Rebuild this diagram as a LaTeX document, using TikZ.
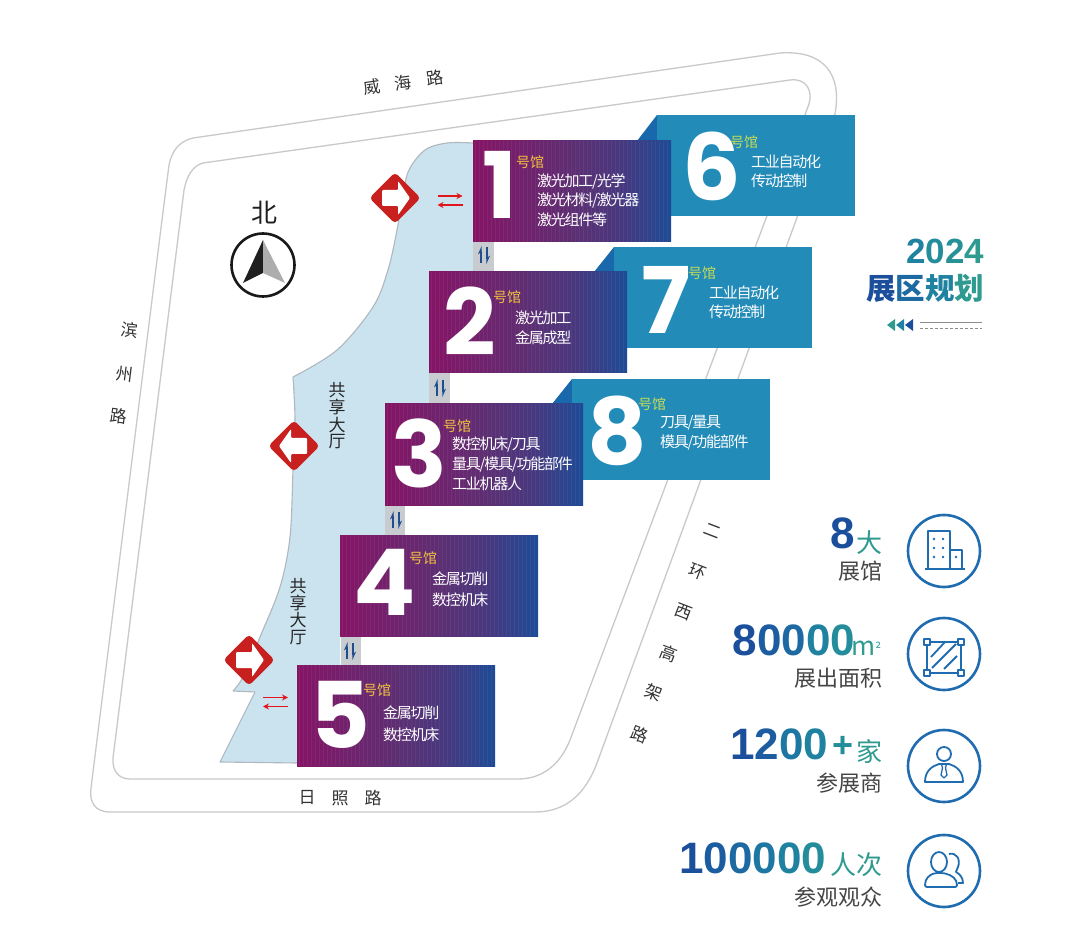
\documentclass[tikz,border=0pt]{standalone}
\usepackage{fontspec}
\usetikzlibrary{arrows.meta}
\setmainfont{Noto Sans CJK SC}
\newfontfamily\hallfont[LetterSpace=-8]{Noto Sans CJK SC}
\newfontfamily\numfont{Poppins}
\newfontfamily\statfont{Liberation Sans}
\definecolor{hblue}{HTML}{CBE2EF}
\definecolor{hedge}{HTML}{AEB8BE}
\definecolor{road}{HTML}{C9C9CB}
\definecolor{teal6}{HTML}{228BB8}
\definecolor{fold}{HTML}{1A68AC}
\definecolor{gold}{HTML}{F2C03E}
\definecolor{lime}{HTML}{C6DC55}
\definecolor{corr}{HTML}{C8CCD0}
\definecolor{carrow}{HTML}{1F4E8C}
\definecolor{sred}{HTML}{C8201F}
\definecolor{ared}{HTML}{E0161B}
\definecolor{txt}{HTML}{333333}
\definecolor{sub}{HTML}{454545}
\definecolor{ring}{HTML}{1F6CB0}
\definecolor{ga}{HTML}{1B4F9C}
\definecolor{gb}{HTML}{1C5CA0}
\definecolor{gc}{HTML}{1D6AA2}
\definecolor{gd}{HTML}{1E76A2}
\definecolor{ge}{HTML}{1F82A0}
\definecolor{gf}{HTML}{238D9C}
\definecolor{gg}{HTML}{2F9A8F}
\pgfdeclarehorizontalshading{hallgrad}{100bp}{
 color(0bp)=(rgb:red,165;green,25;blue,125);
 color(50bp)=(rgb:red,165;green,25;blue,125);
 color(65bp)=(rgb:red,130;green,45;blue,130);
 color(100bp)=(rgb:red,110;green,55;blue,135)}
\pgfdeclarehorizontalshading{hallgradb}{100bp}{
 color(0bp)=(rgb:red,165;green,25;blue,125);
 color(25bp)=(rgb:red,165;green,25;blue,125);
 color(50bp)=(rgb:red,110;green,55;blue,135);
 color(62bp)=(rgb:red,80;green,62;blue,140);
 color(75bp)=(rgb:red,30;green,75;blue,150);
 color(100bp)=(rgb:red,30;green,75;blue,150)}
\tikzset{
 x=1pt,y=-1pt,
 lbl/.style={inner sep=0pt,outer sep=0pt},
 hall/.style={lbl,anchor=north west,minimum width=198pt,minimum height=101pt,shade,shading=hallgradb},
 tealhall/.style={lbl,anchor=north west,minimum width=198pt,minimum height=101pt,fill=teal6},
 digit/.style={lbl,white,font=\numfont\bfseries\fontsize{92}{92}\selectfont},
 guan/.style={lbl,anchor=west,font=\fontsize{14}{14}\selectfont},
 halltext/.style={lbl,anchor=west,white,font=\hallfont\fontsize{15}{15}\selectfont},
 roadlabel/.style={lbl,txt,font=\fontsize{17}{17}\selectfont},
 vlabel/.style={lbl,text=black!85,font=\fontsize{17}{17}\selectfont},
 roadline/.style={draw=road,line width=1.3pt},
 statbig/.style={lbl,anchor=base east,font=\statfont\bfseries\fontsize{44}{44}\selectfont},
 statunit/.style={lbl,anchor=east,gg,font=\fontsize{26}{26}\selectfont},
 statsub/.style={lbl,anchor=east,sub,font=\fontsize{22}{22}\selectfont},
 ringc/.style={lbl,draw=ring,line width=2.6pt,circle,minimum size=72pt},
 icon/.style={draw=ring,line width=1.8pt,line join=round},
 redarrow/.style={ared,line width=1.3pt,-{Stealth[length=6pt,width=6pt]}},
 corrarrow/.style={carrow,line width=1.3pt},
 entrysign/.pic={
  \fill[sred,rounded corners=4pt] (-25.7,0)--(0,-25.7)--(25.7,0)--(0,25.7)--cycle;
  \fill[white,rounded corners=1pt] (-13,-8)--(3,-8)--(3,-17)--(15,0)--(3,17)--(3,8)--(-13,8)--cycle;
 },
 updown/.pic={
  \draw[corrarrow,-{Stealth[harpoon,length=7pt,width=6pt]}] (-3,8)--(-3,-9);
  \draw[corrarrow,-{Stealth[harpoon,length=7pt,width=6pt]}] (3,-8)--(3,9);
 },
 dbl/.pic={
  \draw[redarrow] (-12.5,-4.5)--(12.5,-4.5);
  \draw[redarrow] (12.5,4.5)--(-12.5,4.5);
 }
}
\newcommand{\stripes}[2]{\foreach \s in {2,6,...,196}{\draw[white,opacity=.05,line width=1pt] ({#1+\s},#2)--({#1+\s},{#2+101});}}
\begin{document}
\begin{tikzpicture}
\useasboundingbox[fill=white] (0,0) rectangle (1080,941);
% shared hall floor
\fill[hblue] plot[smooth,tension=.55] coordinates {(473,143)(447,143)(425,150)(409,170)(403,195)(397,230)(388,270)(373,307)(337,350)(293,377)}
 -- plot[smooth,tension=.55] coordinates {(293,377)(295,420)(293,470)(290,537)(280,587)(260,637)(243,677)(233,691)}
 -- (255,692) -- (220,762) -- (297,763) -- (297,665) -- (340,665) -- (340,535) -- (385,535) -- (385,404) -- (429,404) -- (429,272) -- (473,272) -- cycle;
\draw[hedge,line width=1.1pt,line join=round] plot[smooth,tension=.55] coordinates {(473,143)(447,143)(425,150)(409,170)(403,195)(397,230)(388,270)(373,307)(337,350)(293,377)}
 plot[smooth,tension=.55] coordinates {(293,377)(295,420)(293,470)(290,537)(280,587)(260,637)(243,677)(233,691)};
\draw[hedge,line width=1.1pt,line join=round] (233,691) -- (255,692) -- (220,762) -- (297,763);
% roads
\draw[roadline] (193,138) -- (780,53) .. controls (825,50) and (842,75) .. (835,114) -- (597,763) .. controls (585,795) and (565,812) .. (535,812) -- (110,812) .. controls (95,812) and (89,802) .. (91,788) -- (162,220) -- (169,165) .. controls (172,150) and (180,141) .. (193,138) -- cycle;
\draw[roadline] (203,163) -- (790,80) .. controls (806,78) and (813,90) .. (809,104) -- (570,740) .. controls (560,765) and (542,779) .. (518,779) -- (130,779) .. controls (118,779) and (112,770) .. (113,758) -- (184,190) .. controls (187,175) and (193,166) .. (203,163) -- cycle;
% road labels
\node[roadlabel,rotate=8] (w1) at (372,87) {威};
\node[roadlabel,rotate=8] (w2) at (403,83) {海};
\node[roadlabel,rotate=8] (w3) at (435,78) {路};
\node[roadlabel,rotate=-7] (b1) at (130,330) {滨};
\node[roadlabel,rotate=-7] (b2) at (125,374) {州};
\node[roadlabel,rotate=-7] (b3) at (119,416) {路};
\node[roadlabel] (r1) at (307,798) {日};
\node[roadlabel] (r2) at (340,798) {照};
\node[roadlabel] (r3) at (373,798) {路};
\node[roadlabel,rotate=-21] (e1) at (713,531) {二};
\node[roadlabel,rotate=-21] (e2) at (698,572) {环};
\node[roadlabel,rotate=-21] (e3) at (684,612) {西};
\node[roadlabel,rotate=-21] (e4) at (669,653) {高};
\node[roadlabel,rotate=-21] (e5) at (654,693) {架};
\node[roadlabel,rotate=-21] (e6) at (640,734) {路};
% corridors
\fill[corr] (473,242) rectangle (494,272);
\fill[corr] (429,373) rectangle (450,404);
\fill[corr] (385,505) rectangle (405,535);
\fill[corr] (341,636) rectangle (361,665);
\pic at (484,255) {updown};
\pic at (440,388) {updown};
\pic at (396,520) {updown};
\pic at (350,651) {updown};
% teal halls
\fill[fold] (637,141) -- (657,115) -- (657,141) -- cycle;
\fill[fold] (594,272) -- (614,247) -- (614,272) -- cycle;
\fill[fold] (552,404) -- (572,379) -- (572,404) -- cycle;
\node[tealhall] (h6) at (657,115) {};
\node[tealhall] (h7) at (614,247) {};
\node[tealhall] (h8) at (572,379) {};
% purple halls
\node[hall] (h1) at (473,141) {}; \stripes{473}{141}
\node[hall] (h2) at (429,272) {}; \stripes{429}{272}
\node[hall] (h3) at (385,404) {}; \stripes{385}{404}
\node[hall] (h4) at (340,535) {}; \stripes{340}{535}
\node[hall] (h5) at (297,665) {}; \stripes{297}{665}
% digits
\node[digit] (d1) at (500,185) {1};
\node[digit] (d2) at (470,321) {2};
\node[digit] (d3) at (419,453) {3};
\node[digit] (d4) at (385,582) {4};
\node[digit] (d5) at (340,715) {5};
\node[digit] (d6) at (712,166) {6};
\node[digit] (d7) at (666,300) {7};
\node[digit] (d8) at (617,431) {8};
% hall captions
\node[guan,gold] (g1) at (516,162) {号馆};
\node[guan,gold] (g2) at (493,297) {号馆};
\node[guan,gold] (g3) at (443,426) {号馆};
\node[guan,gold] (g4) at (409,558) {号馆};
\node[guan,gold] (g5) at (363,690) {号馆};
\node[guan,lime] (g6) at (730,142) {号馆};
\node[guan,lime] (g7) at (688,273) {号馆};
\node[guan,lime] (g8) at (638,404) {号馆};
\node[halltext] (t1a) at (537,181) {激光加工/光学};
\node[halltext] (t1b) at (537,201) {激光材料/激光器};
\node[halltext] (t1c) at (537,220) {激光组件等};
\node[halltext] (t2a) at (515,318) {激光加工};
\node[halltext] (t2b) at (515,338) {金属成型};
\node[halltext] (t3a) at (452,445) {数控机床/刀具};
\node[halltext] (t3b) at (452,465) {量具/模具/功能部件};
\node[halltext] (t3c) at (452,484) {工业机器人};
\node[halltext] (t4a) at (432,579) {金属切削};
\node[halltext] (t4b) at (432,600) {数控机床};
\node[halltext] (t5a) at (383,713) {金属切削};
\node[halltext] (t5b) at (383,735) {数控机床};
\node[halltext] (t6a) at (751,162) {工业自动化};
\node[halltext] (t6b) at (751,181) {传动控制};
\node[halltext] (t7a) at (709,293) {工业自动化};
\node[halltext] (t7b) at (709,312) {传动控制};
\node[halltext] (t8a) at (660,423) {刀具/量具};
\node[halltext] (t8b) at (660,443) {模具/功能部件};
% shared hall labels
\node[vlabel] (s1) at (337,390) {共};
\node[vlabel] (s2) at (337,407) {享};
\node[vlabel] (s3) at (337,425) {大};
\node[vlabel] (s4) at (337,442) {厅};
\node[vlabel] (q1) at (298,586) {共};
\node[vlabel] (q2) at (298,603) {享};
\node[vlabel] (q3) at (298,620) {大};
\node[vlabel] (q4) at (298,638) {厅};
% entrances
\pic at (395,198) {entrysign};
\pic[xscale=-1] at (294,446) {entrysign};
\pic at (249,660) {entrysign};
\pic at (450,200.5) {dbl};
\pic at (275.5,702) {dbl};
% compass
\node[lbl,text=black!88,font=\fontsize{26}{26}\selectfont] (north) at (264,213) {北};
\node[lbl,draw=black!90,line width=2.6pt,circle,minimum size=63pt] (comp) at (263,265) {};
\fill[black!88] (263,240) -- (243,283) -- (263,273) -- cycle;
\fill[black!32] (263,240) -- (285,283) -- (263,273) -- cycle;
% title
\node[lbl,anchor=base east,font=\statfont\bfseries\fontsize{35}{35}\selectfont] (year) at (984,264) {\textcolor{ge}{2}\textcolor{gf}{0}\textcolor{gf!70!gg}{2}\textcolor{gg}{4}};
\node[lbl,anchor=east,font=\bfseries\fontsize{29.5}{29.5}\selectfont] (ttl) at (984,288) {\textcolor{ga}{展}\textcolor{gc}{区}\textcolor{ge}{规}\textcolor{gg}{划}};
\fill[gg] (887,325) -- (895,319) -- (895,331) -- cycle;
\fill[ge] (896,325) -- (904,319) -- (904,331) -- cycle;
\fill[ga] (905,325) -- (913,319) -- (913,331) -- cycle;
\draw[black!45,line width=.7pt] (920,322) -- (982,322);
\draw[black!45,line width=.7pt,dashed,dash pattern=on 3pt off 2pt] (920,328) -- (982,328);
% stats
\node[statbig] (n1) at (855,548) {\textcolor{ga}{8}};
\node[statunit] (u1) at (882,543) {大};
\node[statsub] (c1) at (882,571) {展馆};
\node[statbig] (n2) at (855,655) {\textcolor{ga}{8}\textcolor{gb}{0}\textcolor{gc}{0}\textcolor{ge}{0}\textcolor{gf}{0}};
\node[lbl,anchor=base east,gg,font=\fontsize{26}{26}\selectfont] (u2) at (881,655) {m\raisebox{1pt}{\fontsize{14}{14}\selectfont ²}};
\node[statsub] (c2) at (882,678) {展出面积};
\node[statbig] (n3) at (828,759) {\textcolor{ga}{1}\textcolor{gb}{2}\textcolor{gd}{0}\textcolor{ge}{0}};
\node[lbl,gf,font=\statfont\bfseries\fontsize{36}{36}\selectfont] (plus) at (843,747) {+};
\node[statunit] (u3) at (882,752) {家};
\node[statsub] (c3) at (882,783) {参展商};
\node[statbig] (n4) at (826,873) {\textcolor{ga}{1}\textcolor{gb}{0}\textcolor{gc}{0}\textcolor{gd}{0}\textcolor{ge}{0}\textcolor{gf}{0}};
\node[statunit] (u4) at (882,865) {人次};
\node[statsub] (c4) at (882,897) {参观观众};
% rings and icons
\node[ringc] (r-a) at (944,551) {};
\node[ringc] (r-b) at (944,654) {};
\node[ringc] (r-c) at (944,766) {};
\node[ringc] (r-d) at (944,871) {};
\begin{scope}[shift={(944,551)}]
 \draw[icon] (-16,17) -- (-16,-20) -- (6,-20) -- (6,17);
 \draw[icon] (6,-1) -- (18,-1) -- (18,17);
 \draw[icon] (-19,18) -- (21,18);
 \foreach \a in {-10,-1} \foreach \b in {-12,-3,6} \fill[ring] (\a,\b) circle (1.3);
 \fill[ring] (12,6) circle (1.3);
\end{scope}
\begin{scope}[shift={(944,654)}]
 \draw[icon] (-17,-12) rectangle (17,19);
 \foreach \a in {-17,17} \foreach \b in {-12,19} \draw[icon,fill=white] ({\a-3},{\b-3}) rectangle ({\a+3},{\b+3});
 \draw[icon] (-13,3) -- (1,-12) (-12,14) -- (12,-10) (0,15) -- (13,2);
\end{scope}
\begin{scope}[shift={(944,766)}]
 \draw[icon] (0,-12) circle (7);
 \draw[icon] (-19,16) .. controls (-19,5) and (-12,0) .. (-5,-2) -- (5,-2) .. controls (12,0) and (19,5) .. (19,16) -- cycle;
 \draw[icon,line width=1.3pt] (-2.5,-2) -- (2.5,-2) -- (1.5,2) -- (3,9) -- (0,12) -- (-3,9) -- (-1.5,2) -- cycle;
\end{scope}
\begin{scope}[shift={(944,871)}]
 \draw[icon] (-5,-9) ellipse (8 and 10);
 \draw[icon,rounded corners=2pt] (-19,16) .. controls (-19,7) and (-14,4) .. (-9,2) -- (-1,2) .. controls (8,4) and (13,8) .. (13,16) -- cycle;
 \draw[icon] (5,-17) .. controls (12,-19) and (17,-12) .. (14,-4) .. controls (13,-1) and (12,0) .. (12,1) .. controls (16,3) and (19,7) .. (19,12) -- (14,12);
\end{scope}
\end{tikzpicture}
\end{document}
